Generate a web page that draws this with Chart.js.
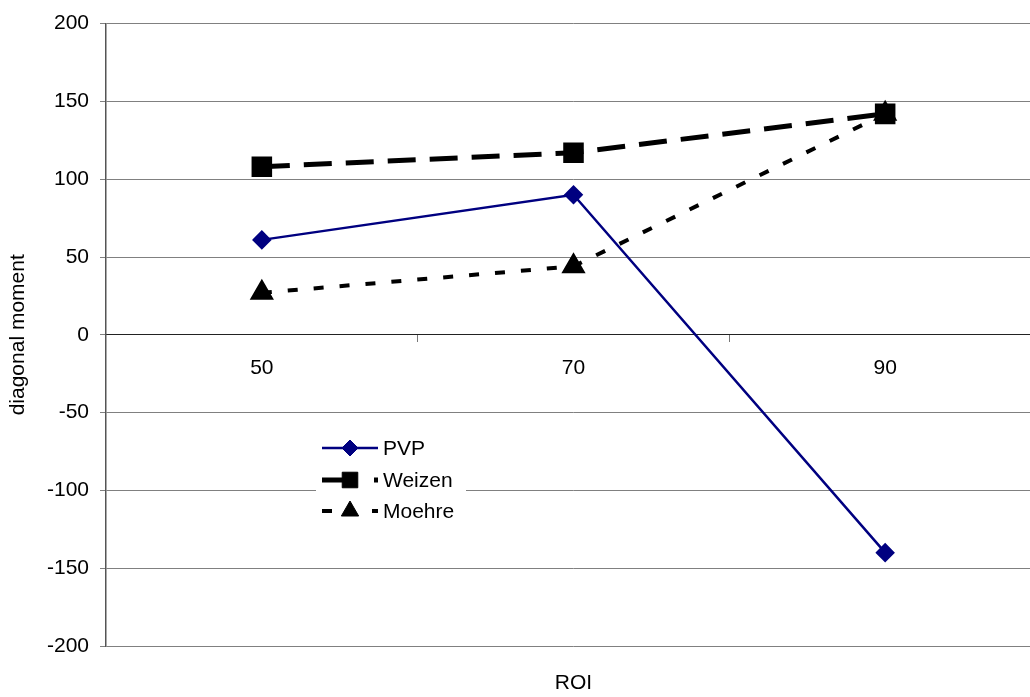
<!DOCTYPE html>
<html>
<head>
<meta charset="utf-8">
<title>diagonal moment vs ROI</title>
<script src="https://cdn.jsdelivr.net/npm/chart.js@4/dist/chart.umd.min.js"></script>
<style>
  html, body { margin: 0; padding: 0; background: #fff; overflow: hidden; }
  #wrap { position: relative; width: 1060px; height: 697px; }
</style>
</head>
<body>
<div id="wrap"><canvas id="chart"></canvas></div>
<script>
// --- data ---
const roiLabels = ['50', '70', '90'];
const seriesNames = ['PVP', 'Weizen', 'Moehre'];
const pvpValues = [61, 90, -140];
const weizenValues = [108, 117, 142];
const moehreValues = [27, 44, 142];
const yTicks = [-200, -150, -100, -50, 0, 50, 100, 150, 200];

const FONT = '"Liberation Sans", Arial, sans-serif';

// dash used for the short sample lines in the legend (spreadsheet style)
const legendDash = [[], [23, 29], [10, 40]];

// legend box sitting inside the plot, drawn by hand
const insideLegend = {
  id: 'insideLegend',
  afterDatasetsDraw(chart) {
    const ctx = chart.ctx;
    const box = { x: 316, y: 432, w: 150, h: 96 };
    ctx.save();
    ctx.fillStyle = '#fff';
    ctx.fillRect(box.x, box.y, box.w, box.h);
    const rows = [448, 480, 511];
    chart.data.datasets.forEach((ds, i) => {
      const y = rows[i];
      ctx.save();
      ctx.strokeStyle = ds.borderColor;
      ctx.lineWidth = ds.borderWidth;
      ctx.setLineDash(legendDash[i]);
      ctx.beginPath();
      ctx.moveTo(322, y);
      ctx.lineTo(378, y);
      ctx.stroke();
      ctx.restore();
      const pt = {
        pointStyle: ds.pointStyle,
        radius: ds.pointRadius,
        rotation: 0,
        borderWidth: 1
      };
      ctx.save();
      ctx.fillStyle = ds.pointBackgroundColor;
      ctx.strokeStyle = ds.pointBorderColor;
      ctx.lineWidth = 1;
      if (Chart.helpers && Chart.helpers.drawPoint) {
        Chart.helpers.drawPoint(ctx, pt, 350, y);
      }
      ctx.restore();
      ctx.fillStyle = '#000';
      ctx.font = '21px ' + FONT;
      ctx.textBaseline = 'middle';
      ctx.textAlign = 'left';
      ctx.fillText(ds.label, 383, y + 1);
    });
    ctx.restore();
  }
};

new Chart(document.getElementById('chart'), {
  type: 'line',
  data: {
    labels: roiLabels,
    datasets: [
      {
        label: seriesNames[0],
        data: pvpValues,
        borderColor: '#000080',
        backgroundColor: '#000080',
        borderWidth: 2.5,
        pointStyle: 'rectRot',
        pointRadius: 8,
        pointBackgroundColor: '#000080',
        pointBorderColor: '#000080'
      },
      {
        label: seriesNames[1],
        data: weizenValues,
        borderColor: '#000',
        backgroundColor: '#000',
        borderWidth: 5,
        borderDash: [28, 14],
        pointStyle: 'rect',
        pointRadius: 11,
        pointBackgroundColor: '#000',
        pointBorderColor: '#000'
      },
      {
        label: seriesNames[2],
        data: moehreValues,
        borderColor: '#000',
        backgroundColor: '#000',
        borderWidth: 4,
        borderDash: [10, 16],
        pointStyle: 'triangle',
        pointRadius: 10,
        pointBackgroundColor: '#000',
        pointBorderColor: '#000'
      }
    ]
  },
  options: {
    responsive: true,
    maintainAspectRatio: false,
    animation: false,
    layout: { padding: { top: 21, right: 19, bottom: 0, left: 0 } },
    elements: { line: { tension: 0, fill: false } },
    plugins: {
      legend: { display: false },
      tooltip: { enabled: false }
    },
    scales: {
      x: {
        type: 'category',
        position: { y: 0 },
        offset: true,
        grid: {
          offset: true,
          drawOnChartArea: false,
          drawTicks: true,
          tickLength: 7,
          color: '#777'
        },
        border: { display: true, color: '#222', width: 1 },
        ticks: {
          color: '#000',
          font: { family: FONT, size: 21 },
          padding: 14,
          maxRotation: 0
        }
      },
      x2: {
        type: 'category',
        axis: 'x',
        position: 'bottom',
        offset: true,
        grid: { display: false },
        border: { display: false },
        ticks: { display: false },
        title: {
          display: true,
          text: 'ROI',
          color: '#000',
          font: { family: FONT, size: 21 },
          padding: { top: 1, bottom: 1 }
        },
        afterFit(scale) { scale.height = 51; }
      },
      y: {
        min: -200,
        max: 200,
        afterBuildTicks(scale) {
          scale.ticks = yTicks.map(v => ({ value: v }));
        },
        grid: {
          color: '#808080',
          lineWidth: 1,
          drawTicks: true,
          tickLength: 6
        },
        border: { display: true, color: '#555', width: 1.5 },
        ticks: {
          color: '#000',
          font: { family: FONT, size: 21 },
          padding: 11
        },
        title: {
          display: true,
          text: 'diagonal moment',
          color: '#000',
          font: { family: FONT, size: 21 },
          padding: { top: 6, bottom: 0 }
        },
        afterFit(scale) { scale.width = 106; }
      }
    }
  },
  plugins: [insideLegend]
});
</script>
</body>
</html>
